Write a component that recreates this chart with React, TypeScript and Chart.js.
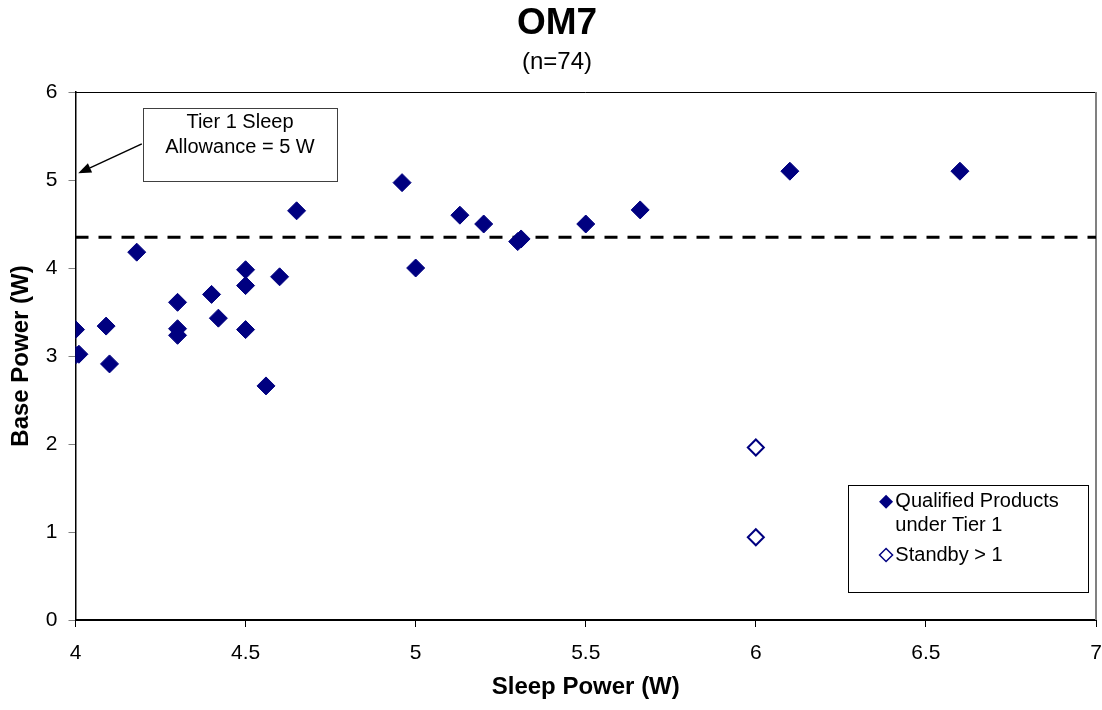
import React, { useEffect, useRef } from 'react';
import { Chart, registerables } from 'chart.js';

Chart.register(...registerables);

// ---- data ----
const qualifiedX = [4.0, 4.0, 4.01, 4.09, 4.1, 4.18, 4.3, 4.3, 4.3, 4.4, 4.42, 4.5, 4.5, 4.5, 4.56, 4.6, 4.65, 4.96, 5.0, 5.13, 5.2, 5.3, 5.31, 5.5, 5.66, 6.1, 6.6];
const qualifiedY = [3.3, 3.01, 3.02, 3.34, 2.91, 4.18, 3.61, 3.31, 3.235, 3.7, 3.43, 3.98, 3.8, 3.3, 2.66, 3.9, 4.65, 4.97, 4.0, 4.6, 4.5, 4.3, 4.33, 4.5, 4.66, 5.1, 5.1];
const standbyX = [6.0, 6.0];
const standbyY = [1.96, 0.94];
const limitX = [4, 7];
const limitY = [4.35, 4.35];
const xTicks = [4, 4.5, 5, 5.5, 6, 6.5, 7];
const xTickLabels = ['4', '4.5', '5', '5.5', '6', '6.5', '7'];
const yTicks = [0, 1, 2, 3, 4, 5, 6];
const yTickLabels = ['0', '1', '2', '3', '4', '5', '6'];

const titleText = 'OM7';
const subtitleText = '(n=74)';
const xTitle = 'Sleep Power (W)';
const yTitle = 'Base Power (W)';
const qualifiedLabel = ['Qualified Products', 'under Tier 1'];
const standbyLabel = ['Standby > 1'];
const noteLines = ['Tier 1 Sleep', 'Allowance = 5 W'];

// annotation placement in data units
const noteBox = { x0: 4.199, x1: 4.768, y0: 5.82, y1: 4.99 };
const noteArrow = { fromX: 4.195, fromY: 5.41, toX: 4.008, toY: 5.076 };
const legendBox = { x0: 6.272, x1: 6.978, y0: 1.534, y1: 0.32 };

const FONT = '"Liberation Sans", Arial, Helvetica, sans-serif';
const NAVY = '#000080';

function diamond(ctx: CanvasRenderingContext2D, x: number, y: number, r: number) {
  ctx.beginPath();
  ctx.moveTo(x - r, y);
  ctx.lineTo(x, y - r);
  ctx.lineTo(x + r, y);
  ctx.lineTo(x, y + r);
  ctx.closePath();
}

const decorPlugin = {
  id: 'decor',
  beforeDatasetsDraw(chart: any) {
    const { ctx, chartArea: a } = chart;
    ctx.save();
    ctx.strokeStyle = '#000';
    ctx.lineWidth = 1;
    ctx.beginPath();
    ctx.moveTo(a.left, a.top + 0.5);
    ctx.lineTo(a.right, a.top + 0.5);
    ctx.stroke();
    ctx.strokeStyle = '#808080';
    ctx.lineWidth = 2;
    ctx.beginPath();
    ctx.moveTo(a.right, a.top);
    ctx.lineTo(a.right, a.bottom);
    ctx.stroke();
    ctx.restore();
  },
  afterDraw(chart: any) {
    const { ctx } = chart;
    const xs = chart.scales.x;
    const ys = chart.scales.y;
    ctx.save();
    // titles
    ctx.fillStyle = '#000';
    ctx.textAlign = 'center';
    ctx.textBaseline = 'middle';
    ctx.font = `bold 37px ${FONT}`;
    ctx.fillText(titleText, 557, 24);
    ctx.font = `24px ${FONT}`;
    ctx.fillText(subtitleText, 557, 62);

    // annotation box
    const bx0 = xs.getPixelForValue(noteBox.x0);
    const bx1 = xs.getPixelForValue(noteBox.x1);
    const by0 = ys.getPixelForValue(noteBox.y0);
    const by1 = ys.getPixelForValue(noteBox.y1);
    ctx.fillStyle = '#fff';
    ctx.fillRect(bx0, by0, bx1 - bx0, by1 - by0);
    ctx.strokeStyle = '#404040';
    ctx.lineWidth = 1;
    ctx.strokeRect(Math.round(bx0) + 0.5, Math.round(by0) + 0.5, Math.round(bx1 - bx0), Math.round(by1 - by0));
    ctx.fillStyle = '#000';
    ctx.font = `20px ${FONT}`;
    const cx = (bx0 + bx1) / 2;
    ctx.fillText(noteLines[0], cx, by0 + 15);
    ctx.fillText(noteLines[1], cx, by0 + 40);

    // arrow
    const ax0 = xs.getPixelForValue(noteArrow.fromX);
    const ay0 = ys.getPixelForValue(noteArrow.fromY);
    const ax1 = xs.getPixelForValue(noteArrow.toX);
    const ay1 = ys.getPixelForValue(noteArrow.toY);
    const ang = Math.atan2(ay1 - ay0, ax1 - ax0);
    const headLen = 13;
    const headW = 5;
    const bxh = ax1 - headLen * Math.cos(ang);
    const byh = ay1 - headLen * Math.sin(ang);
    ctx.strokeStyle = '#000';
    ctx.lineWidth = 1.5;
    ctx.beginPath();
    ctx.moveTo(ax0, ay0);
    ctx.lineTo(bxh, byh);
    ctx.stroke();
    ctx.fillStyle = '#000';
    ctx.beginPath();
    ctx.moveTo(ax1, ay1);
    ctx.lineTo(bxh + headW * Math.sin(ang), byh - headW * Math.cos(ang));
    ctx.lineTo(bxh - headW * Math.sin(ang), byh + headW * Math.cos(ang));
    ctx.closePath();
    ctx.fill();

    // legend
    const lx0 = xs.getPixelForValue(legendBox.x0);
    const lx1 = xs.getPixelForValue(legendBox.x1);
    const ly0 = ys.getPixelForValue(legendBox.y0);
    const ly1 = ys.getPixelForValue(legendBox.y1);
    ctx.fillStyle = '#fff';
    ctx.fillRect(lx0, ly0, lx1 - lx0, ly1 - ly0);
    ctx.strokeStyle = '#000';
    ctx.lineWidth = 1;
    ctx.strokeRect(Math.round(lx0) + 0.5, Math.round(ly0) + 0.5, Math.round(lx1 - lx0), Math.round(ly1 - ly0));
    const mx = lx0 + 37.7;
    const tx = lx0 + 47;
    ctx.fillStyle = NAVY;
    diamond(ctx, mx, ly0 + 16.7, 7);
    ctx.fill();
    ctx.strokeStyle = NAVY;
    ctx.lineWidth = 1.5;
    diamond(ctx, mx, ly0 + 70, 6.5);
    ctx.stroke();
    ctx.fillStyle = '#000';
    ctx.textAlign = 'left';
    ctx.font = `20px ${FONT}`;
    ctx.fillText(qualifiedLabel[0], tx, ly0 + 16.7);
    ctx.fillText(qualifiedLabel[1], tx, ly0 + 40);
    ctx.fillText(standbyLabel[0], tx, ly0 + 70);
    ctx.restore();
  },
};

const CANVAS_W = 1106;

export default function App() {
  const ref = useRef<HTMLCanvasElement | null>(null);

  useEffect(() => {
    document.body.style.margin = '0';
    document.body.style.overflow = 'hidden';
    if (!ref.current) return;
    Chart.defaults.font.family = FONT;
    Chart.defaults.color = '#000';

    const chart = new Chart(ref.current, {
      type: 'scatter',
      data: {
        datasets: [
          {
            type: 'line',
            label: 'limit',
            data: limitX.map((x, i) => ({ x, y: limitY[i] })),
            borderColor: '#000',
            borderWidth: 3,
            borderDash: [13, 10],
            pointRadius: 0,
            fill: false,
            order: 3,
          } as any,
          {
            label: qualifiedLabel.join(' '),
            data: qualifiedX.map((x, i) => ({ x, y: qualifiedY[i] })),
            pointStyle: 'rectRot',
            pointRadius: 9,
            backgroundColor: NAVY,
            borderColor: NAVY,
            borderWidth: 1,
            order: 1,
          },
          {
            label: standbyLabel[0],
            data: standbyX.map((x, i) => ({ x, y: standbyY[i] })),
            pointStyle: 'rectRot',
            pointRadius: 8,
            backgroundColor: '#fff',
            borderColor: NAVY,
            borderWidth: 2,
            order: 2,
          },
        ],
      },
      options: {
        animation: false,
        responsive: false,
        layout: { padding: { top: 92, left: 0, right: 0, bottom: 0 } },
        plugins: {
          legend: { display: false },
          tooltip: { enabled: false },
          title: { display: false },
        },
        scales: {
          x: {
            type: 'linear',
            min: 4,
            max: 7,
            afterBuildTicks: (s: any) => {
              s.ticks = xTicks.map((v) => ({ value: v }));
            },
            afterFit: (s: any) => {
              s.height = 90;
              s.paddingLeft = 0;
              s.paddingRight = 0;
            },
            grid: { drawOnChartArea: false, drawTicks: true, tickLength: 7, color: '#000', lineWidth: 1 },
            border: { display: true, color: '#000', width: 2 },
            ticks: {
              font: { size: 21 },
              color: '#000',
              padding: 14,
              maxRotation: 0,
              autoSkip: false,
              callback: (_v: any, i: number) => xTickLabels[i],
            },
            title: {
              display: true,
              text: xTitle,
              color: '#000',
              font: { size: 24, weight: 'bold' },
              padding: { top: 0, bottom: 8 },
            },
          },
          y: {
            type: 'linear',
            min: 0,
            max: 6,
            afterBuildTicks: (s: any) => {
              s.ticks = yTicks.map((v) => ({ value: v }));
            },
            afterFit: (s: any) => {
              s.width = 75.5;
              s.paddingTop = 0;
              s.paddingBottom = 0;
            },
            grid: { drawOnChartArea: false, drawTicks: true, tickLength: 7, color: '#808080', lineWidth: 1 },
            border: { display: true, color: '#000', width: 1.5 },
            ticks: {
              font: { size: 21 },
              color: '#000',
              padding: 11,
              autoSkip: false,
              callback: (_v: any, i: number) => yTickLabels[i],
            },
            title: {
              display: true,
              text: yTitle,
              color: '#000',
              font: { size: 24, weight: 'bold' },
              padding: { top: 7, bottom: 0 },
            },
          },
        },
      },
      plugins: [decorPlugin],
    } as any);

    return () => chart.destroy();
  }, []);

  return (
    <div style={{ width: 1102, height: 710, position: 'relative', overflow: 'hidden', background: '#fff' }}>
      <canvas ref={ref} width={CANVAS_W} height={710} style={{ width: CANVAS_W, height: 710, display: 'block' }} />
    </div>
  );
}
